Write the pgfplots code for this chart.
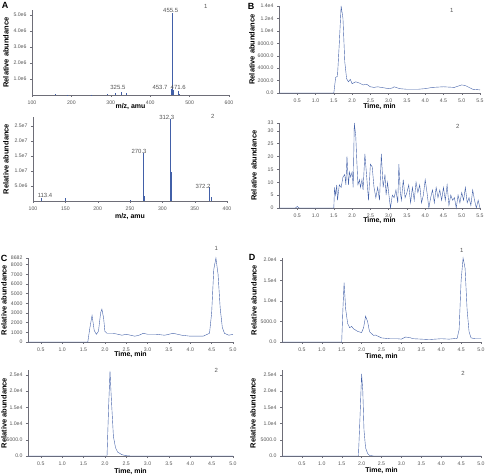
\documentclass[border=0pt]{standalone}
\usepackage{fontspec}
\setmainfont{Liberation Sans}
\usepackage{pgfplots}
\pgfplotsset{compat=1.18}
\definecolor{trace}{RGB}{66,96,168}
\definecolor{tl}{RGB}{85,85,85}
\definecolor{ax}{RGB}{110,110,120}
\pgfplotsset{
  panel/.style={
    scale only axis, axis lines*=left,
    axis line style={ax, line width=0.4pt},
    tick style={ax, line width=0.3pt}, tick align=outside, major tick length=2bp,
    ticklabel style={font=\fontsize{5.2}{6}\selectfont, text=tl},
    /pgf/number format/assume math mode=true,
    scaled ticks=false,
    cycle list={{trace, line width=0.5pt, mark=none}},
    no markers,
    clip=false,
    xlabel style={font=\bfseries\fontsize{7}{8}\selectfont, anchor=center},
    ylabel style={font=\bfseries\fontsize{7.5}{8}\selectfont, anchor=center},
  },
  xl/.style={xlabel style={at={([yshift=-#1]axis description cs:0.5,0)}}},
  yl/.style={ylabel style={at={([xshift=-#1]axis description cs:0,0.5)}}},
  tx/.style={xticklabel style={/pgf/number format/.cd, fixed, fixed zerofill, precision=1}},
}
\tikzset{pk/.style={font=\fontsize{6}{7}\selectfont, text=tl, inner sep=0pt},
         let/.style={font=\bfseries\fontsize{9}{10}\selectfont, inner sep=0pt}}
\begin{document}
\begin{tikzpicture}
\path[use as bounding box] (0bp,0bp) rectangle (488bp,476bp);
\node[let] at (5bp,471bp) {A};
\node[let] at (251bp,470bp) {B};
\node[let] at (4bp,218bp) {C};
\node[let] at (252bp,219bp) {D};

% ---------- A1 ----------
\begin{axis}[panel, at={(32bp,381bp)}, anchor=origin, width=197bp, height=85bp,
  xmin=100, xmax=600, ymin=0, ymax=5.3125e6,
  xtick={100,200,300,400,500,600},
  ytick={1e6,2e6,3e6,4e6,5e6}, yticklabels={1.0e6,2.0e6,3.0e6,4.0e6,5.0e6},
  xlabel={m/z, amu}, ylabel={Relative abundance}, xl=12bp, yl=26bp]
\addplot[ycomb, trace, line width=0.5pt] coordinates {(160,0.05e6) (190,0.03e6) (250,0.03e6) (290,0.04e6)
  (311,0.15e6) (325.5,0.2e6) (340,0.15e6) (453.7,0.35e6) (455.5,5.15e6) (456.5,1.9e6)
  (457.5,0.3e6) (471.6,0.28e6) (473,0.08e6)};
\node[pk] at (axis cs:318,0.5e6) {325.5};
\node[pk] at (axis cs:425,0.5e6) {453.7};
\node[pk] at (axis cs:471,0.5e6) {471.6};
\node[pk] at (axis cs:452,5.31e6) {455.5};
\node[pk] at (axis cs:541,5.56e6) {1};
\end{axis}

% ---------- A2 ----------
\begin{axis}[panel, at={(33bp,275bp)}, anchor=origin, width=194bp, height=84bp,
  xmin=100, xmax=400, ymin=0, ymax=2.8e7,
  xtick={100,150,200,250,300,350,400},
  ytick={5e6,1e7,1.5e7,2e7,2.5e7}, yticklabels={5.0e6,1.0e7,1.5e7,2.0e7,2.5e7},
  xlabel={m/z, amu}, ylabel={Relative abundance}, xl=16bp, yl=27bp]
\addplot[ycomb, trace, line width=0.5pt] coordinates {(113.4,0.1e7) (150,0.09e7) (250,0.03e7) (270.3,1.6e7)
  (271.3,0.15e7) (312.3,2.72e7) (313.3,0.95e7) (314.3,0.1e7) (372.2,0.45e7) (375,0.12e7)};
\node[pk] at (axis cs:118.6,0.2e7) {113.4};
\node[pk] at (axis cs:264,1.64e7) {270.3};
\node[pk] at (axis cs:306.8,2.79e7) {312.3};
\node[pk] at (axis cs:363,0.48e7) {372.2};
\node[pk] at (axis cs:378,2.83e7) {2};
\end{axis}

% ---------- B1 ----------
\begin{axis}[panel, tx, at={(279bp,383bp)}, anchor=origin, width=201bp, height=87bp,
  xmin=0, xmax=5.5, ymin=0, ymax=1.4e4,
  xtick={0.5,1,...,5.5},
  ytick={0,2000,4000,6000,8000,10000,12000,14000},
  yticklabels={0.0,2000.0,4000.0,6000.0,8000.0,1.0e4,1.2e4,1.4e4},
  xlabel={Time, min}, ylabel={Relative abundance}, xl=14bp, yl=27bp]
\addplot coordinates {(0,0) (1.5,0) (1.55,2500) (1.6,2700) (1.65,8000) (1.7,14000)
  (1.75,12000) (1.8,5000) (1.85,2300) (1.9,1800) (1.95,2200) (2.0,1500) (2.1,1800)
  (2.2,1600) (2.3,1300) (2.4,1400) (2.5,1000) (2.6,900) (2.7,1000) (2.8,900) (3.0,700)
  (3.1,800) (3.15,1000) (3.3,700) (3.5,600) (3.8,600) (4.0,700) (4.2,900) (4.5,1000)
  (4.8,900) (5.0,1300) (5.1,1200) (5.3,600) (5.5,500)};
\node[pk] at (axis cs:4.73,13360) {1};
\end{axis}

% ---------- B2 ----------
\begin{axis}[panel, tx, at={(279bp,268bp)}, anchor=origin, width=201bp, height=85bp,
  xmin=0, xmax=5.5, ymin=0, ymax=33,
  xtick={0.5,1,...,5.5},
  ytick={0,5,10,15,20,25,30,33},
  xlabel={Time, min}, ylabel={Relative abundance}, xl=13bp, yl=25bp]
\addplot coordinates {(0,0) (0.45,0) (0.5,0.6) (0.55,0) (1.5,0) (1.52,8) (1.55,5)
  (1.58,9) (1.6,3) (1.65,9) (1.7,8) (1.75,12) (1.8,13) (1.83,9) (1.86,20) (1.9,9)
  (1.93,14) (1.96,12) (2.0,14) (2.03,8) (2.06,33) (2.1,28) (2.13,18) (2.16,9) (2.2,11)
  (2.23,8) (2.27,11) (2.3,7) (2.35,21) (2.4,12) (2.45,3) (2.5,17) (2.55,16) (2.6,8)
  (2.65,4) (2.7,8) (2.75,3) (2.8,21) (2.85,8) (2.9,13) (2.93,5) (2.97,10) (3.0,6)
  (3.05,0) (3.1,5) (3.15,4) (3.2,7) (3.25,2) (3.28,17) (3.32,6) (3.35,3) (3.4,11)
  (3.45,4) (3.5,6) (3.55,9) (3.6,2) (3.65,8) (3.7,3) (3.75,10) (3.8,6) (3.85,9)
  (3.9,2) (3.95,5) (4.0,11) (4.05,6) (4.1,0) (4.15,4) (4.2,7) (4.25,2) (4.3,8)
  (4.35,4) (4.4,7) (4.45,3) (4.5,8) (4.55,3) (4.6,9) (4.65,1) (4.7,5) (4.75,3)
  (4.8,4) (4.85,0) (4.9,5) (4.95,2) (5.0,6) (5.05,3) (5.1,8) (5.15,2) (5.2,4)
  (5.25,1) (5.3,7) (5.35,3) (5.4,0) (5.45,3) (5.5,0)};
\node[pk] at (axis cs:4.89,31.8) {2};
\end{axis}

% ---------- C1 ----------
\begin{axis}[panel, tx, at={(28bp,134bp)}, anchor=origin, width=205bp, height=84bp,
  xmin=0.2, xmax=5.0, ymin=0, ymax=8682,
  xtick={0.5,1,...,5.0},
  ytick={0,1000,2000,3000,4000,5000,6000,7000,8000,8682},
  yticklabels={0,1000,2000,3000,4000,5000,6000,7000,8000,8682},
  xlabel={Time, min}, ylabel={Relative abundance}, xl=12.5bp, yl=24bp]
\addplot coordinates {(0.2,0) (1.6,0) (1.65,1500) (1.7,2750) (1.75,1200) (1.8,800)
  (1.85,1100) (1.9,3000) (1.93,3400) (1.97,2500) (2.0,1100) (2.05,900) (2.2,900)
  (2.3,800) (2.4,700) (2.5,800) (2.6,700) (2.7,600) (2.8,700) (2.9,900) (3.0,800)
  (3.2,800) (3.4,700) (3.6,900) (3.7,800) (3.8,700) (4.0,600) (4.3,600) (4.45,900)
  (4.5,3000) (4.55,7500) (4.6,8682) (4.65,7000) (4.7,3500) (4.75,1500) (4.8,900)
  (4.9,700) (5.0,800)};
\node[pk] at (axis cs:4.61,9716) {1};
\end{axis}

% ---------- C2 ----------
\begin{axis}[panel, tx, at={(28bp,20bp)}, anchor=origin, width=205bp, height=86bp,
  xmin=0.2, xmax=5.0, ymin=0, ymax=2.65e4,
  xtick={0.5,1,...,5.0},
  ytick={0,5000,10000,15000,20000,25000},
  yticklabels={0.0,5000.0,1.0e4,1.5e4,2.0e4,2.5e4},
  xlabel={Time, min}, ylabel={Relative abundance}, xl=16bp, yl=24bp]
\addplot coordinates {(0.2,0) (2.05,0) (2.09,16000) (2.12,26200) (2.15,18000)
  (2.2,6000) (2.25,2500) (2.3,1200) (2.4,400) (2.5,100) (2.6,0) (5.0,0)};
\node[pk] at (axis cs:4.61,2.65e4) {2};
\end{axis}

% ---------- D1 ----------
\begin{axis}[panel, tx, at={(282bp,134bp)}, anchor=origin, width=199bp, height=84bp,
  xmin=0, xmax=5.0, ymin=0, ymax=2.05e4,
  xtick={0.5,1,...,5.0},
  ytick={0,5000,10000,15000,20000},
  yticklabels={0.0,5000.0,1.0e4,1.5e4,2.0e4},
  xlabel={Time, min}, ylabel={Relative abundance}, xl=15bp, yl=28bp]
\addplot coordinates {(0,0) (1.5,0) (1.53,8000) (1.56,14500) (1.6,8000) (1.65,4500)
  (1.7,3500) (1.75,3800) (1.8,3200) (1.9,2600) (2.0,2300) (2.05,3500) (2.1,6300)
  (2.15,5000) (2.2,2500) (2.3,1600) (2.35,1700) (2.5,1000) (2.7,800) (2.9,800)
  (3.0,700) (3.1,1200) (3.2,1100) (3.3,800) (3.5,700) (3.7,600) (4.0,800) (4.2,700)
  (4.4,900) (4.45,3000) (4.5,15000) (4.55,20500) (4.6,18000) (4.65,8000) (4.7,2500)
  (4.75,1000) (4.85,800) (5.0,800)};
\node[pk] at (axis cs:4.52,2.24e4) {1};
\end{axis}

% ---------- D2 ----------
\begin{axis}[panel, tx, at={(282bp,20bp)}, anchor=origin, width=199bp, height=86bp,
  xmin=0, xmax=5.0, ymin=0, ymax=2.65e4,
  xtick={0.5,1,...,5.0},
  ytick={0,5000,10000,15000,20000,25000},
  yticklabels={0.0,5000.0,1.0e4,1.5e4,2.0e4,2.5e4},
  xlabel={Time, min}, ylabel={Relative abundance}, xl=15bp, yl=29bp]
\addplot coordinates {(0,0) (1.92,0) (1.96,12000) (2.0,25300) (2.03,20000)
  (2.06,8000) (2.1,2500) (2.15,800) (2.2,200) (2.3,0) (5.0,0)};
\node[pk] at (axis cs:4.55,2.53e4) {2};
\end{axis}
\end{tikzpicture}
\end{document}
